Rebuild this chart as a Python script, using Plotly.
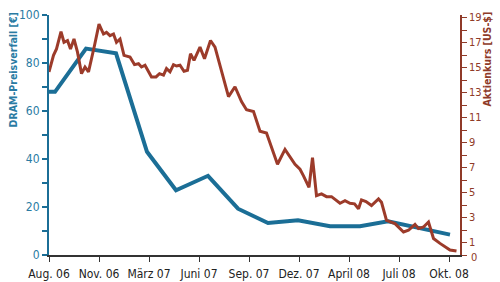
import plotly.graph_objects as go

# x positions expressed in tick-interval units (0 = Aug. 06, 8 = Okt. 08)
tick_labels = ["Aug. 06", "Nov. 06", "März 07", "Juni 07", "Sep. 07",
               "Dez. 07", "April 08", "Juli 08", "Okt. 08"]

dram_x = [0.0, 0.12, 0.74, 1.34, 1.96, 2.54, 3.18, 3.78, 4.38, 4.98, 5.62, 6.22, 6.78, 8.02]
dram_y = [68, 68, 86, 84, 43, 27, 33, 19.3, 13.3, 14.5, 12, 12, 14, 8.5]

stock_x = [0.0, 0.09, 0.15, 0.24, 0.30, 0.37, 0.43, 0.50, 0.57, 0.65, 0.72, 0.79, 0.91,
           1.00, 1.09, 1.15, 1.22, 1.29, 1.35, 1.42, 1.50, 1.62, 1.71, 1.79, 1.85, 1.92,
           2.05, 2.14, 2.21, 2.29, 2.35, 2.42, 2.49, 2.55, 2.62, 2.70, 2.77, 2.83, 2.90,
           3.02, 3.11, 3.23, 3.32, 3.42, 3.59, 3.72, 3.85, 3.95, 4.09, 4.22, 4.35, 4.57,
           4.72, 4.92, 5.02, 5.09, 5.20, 5.27, 5.35, 5.45, 5.55, 5.65, 5.74, 5.82, 5.92,
           6.02, 6.11, 6.19, 6.25, 6.34, 6.45, 6.59, 6.65, 6.75, 6.92, 7.09, 7.19, 7.32,
           7.39, 7.49, 7.59, 7.69, 7.82, 7.92, 8.02, 8.15]
stock_y = [14.65, 15.97, 16.49, 17.87, 17.02, 17.16, 16.49, 17.28, 16.23, 14.51, 15.04, 14.65, 16.76,
           18.47, 17.68, 17.81, 17.55, 17.68, 17.02, 17.28, 15.97, 15.84, 15.23, 15.30, 15.04, 15.18,
           14.25, 14.25, 14.51, 14.39, 14.91, 14.65, 15.23, 15.12, 15.18, 14.70, 14.78, 16.10, 15.57,
           16.63, 15.70, 17.16, 16.63, 15.18, 12.67, 13.46, 12.27, 11.62, 11.48, 9.90, 9.76, 7.26,
           8.45, 7.26, 6.86, 6.33, 5.41, 7.78, 4.75, 4.89, 4.67, 4.67, 4.35, 4.14, 4.35,
           4.14, 4.09, 3.70, 4.41, 4.28, 3.96, 4.49, 4.22, 2.77, 2.51, 1.84, 1.98, 2.45,
           2.11, 2.24, 2.64, 1.32, 0.93, 0.66, 0.40, 0.32]

left_ticks = [0, 20, 40, 60, 80, 100]
right_ticks = [1, 3, 5, 7, 9, 11, 13, 15, 17, 19]
right_minor = list(range(0, 20))

BLUE = "#1b6e96"
BLUE_TXT = "#2a7ba3"
RED = "#9c3b2a"
RED_TXT = "#8f3a28"
FONT = "DejaVu Sans Condensed, Liberation Sans Narrow, sans-serif"

fig = go.Figure()
fig.add_trace(go.Scatter(x=dram_x, y=dram_y, mode="lines",
                         line=dict(color=BLUE, width=4), yaxis="y"))
fig.add_trace(go.Scatter(x=stock_x, y=stock_y, mode="lines",
                         line=dict(color=RED, width=3), yaxis="y2"))

fig.update_layout(
    width=500, height=282,
    margin=dict(l=49, r=40, t=15, b=27),
    paper_bgcolor="white", plot_bgcolor="white",
    showlegend=False,
    font=dict(family=FONT, size=12, color="#222"),
    xaxis=dict(range=[0, 8.22], tickvals=list(range(9)), ticktext=tick_labels,
               automargin=False,
               showgrid=False, zeroline=False, showline=True, linecolor="#333",
               linewidth=1.5, ticks="outside", ticklen=5, tickcolor="#333",
               ticklabelstandoff=2,
               tickfont=dict(size=12, color="#222", family=FONT)),
    yaxis=dict(range=[0, 100], tickvals=left_ticks, showgrid=False, zeroline=False,
               automargin=False,
               showline=True, linecolor=BLUE, linewidth=2, ticks="outside",
               ticklen=5, tickcolor=BLUE, tickwidth=1.5,
               minor=dict(dtick=10, tick0=0, ticks="outside", ticklen=5, tickcolor=BLUE, tickwidth=1.5),
               tickfont=dict(size=12, color=BLUE_TXT, family=FONT)),
    yaxis2=dict(range=[0, 19.2], overlaying="y", side="right", tickvals=right_ticks,
                automargin=False,
                showgrid=False, zeroline=False, showline=True, linecolor=RED_TXT,
                linewidth=1.5, ticks="outside", ticklen=5, tickcolor=RED_TXT,
                minor=dict(tickvals=right_minor, ticks="outside", ticklen=5, tickcolor=RED_TXT),
                tickfont=dict(size=11, color=RED_TXT, family=FONT)),
)

# zero label of the right axis, nudged down like in the original
fig.add_annotation(x=1, xref="paper", xshift=9, xanchor="left", y=0, yref="y2",
                   yshift=-2, yanchor="middle", text="0", showarrow=False,
                   font=dict(size=11, color=RED_TXT, family=FONT))

# axis titles, top-aligned
fig.add_annotation(x=-0.0876, xref="paper", xanchor="center", y=1.021, yref="paper",
                   yanchor="top", textangle=-90, showarrow=False,
                   text="<b>DRAM-Preisverfall [€]</b>",
                   font=dict(size=10.5, color=BLUE_TXT, family=FONT))
fig.add_annotation(x=1.0657, xref="paper", xanchor="center", y=1.021, yref="paper",
                   yanchor="top", textangle=-90, showarrow=False,
                   text="<b>Aktienkurs [US-$]</b>",
                   font=dict(size=10.5, color=RED_TXT, family=FONT))

fig.write_html("out.html")
